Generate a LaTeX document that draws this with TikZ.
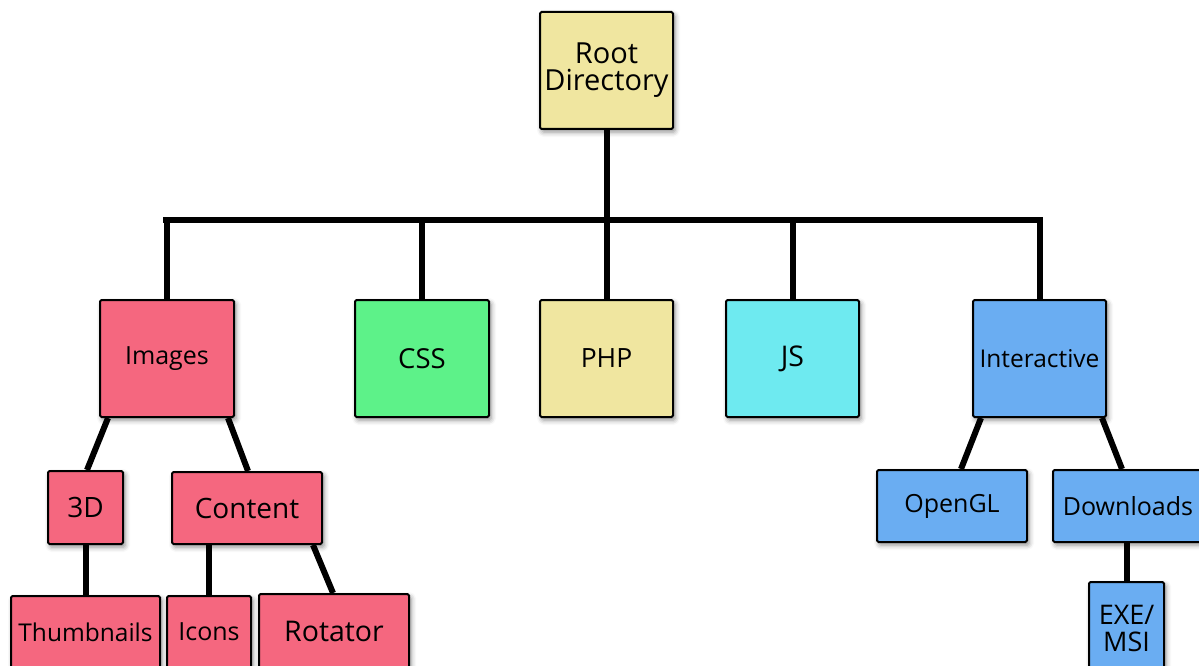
\documentclass[tikz,border=0pt]{standalone}
\usepackage{fontspec}
\setmainfont{Open Sans}
\usetikzlibrary{shadows.blur,backgrounds}
\definecolor{cpink}{RGB}{245,103,127}
\definecolor{cyellow}{RGB}{240,230,160}
\definecolor{cgreen}{RGB}{93,242,137}
\definecolor{ccyan}{RGB}{110,234,240}
\definecolor{cblue}{RGB}{106,173,242}
\tikzset{
  box/.style={draw=black, line width=2pt, rounded corners=1.5pt, inner sep=0pt, align=center,
    blur shadow={shadow xshift=2pt, shadow yshift=-3pt, shadow blur radius=5pt, shadow opacity=45}},
  link/.style={line width=6pt, black},
  fs/.style={font=\fontsize{#1}{27}\selectfont}
}
\begin{document}
\begin{tikzpicture}[x=1pt,y=-1pt]
\useasboundingbox (0,0) rectangle (1199,666);
\clip (0,0) rectangle (1199,666);
% top level
\node[box, fill=cyellow, minimum width=133, minimum height=117, fs=29] (root) at (606.5,70.5) {Root\\Directory};
\node[box, fill=cpink, minimum width=134, minimum height=117, fs=25] (images) at (167,358.5) {Images};
\node[box, fill=cgreen, minimum width=134, minimum height=117, fs=27.5] (css) at (422,358.5) {CSS};
\node[box, fill=cyellow, minimum width=133, minimum height=117, fs=26.5] (php) at (606.5,358.5) {PHP};
\node[box, fill=ccyan, minimum width=133, minimum height=117, fs=28.5] (js) at (792.5,358.5) {JS};
\node[box, fill=cblue, minimum width=133, minimum height=117, fs=24.5] (inter) at (1039.5,358.5) {Interactive};
% second level
\node[box, fill=cpink, minimum width=75, minimum height=73, fs=28] (d3) at (85.5,507.5) {3D};
\node[box, fill=cpink, minimum width=150, minimum height=72, fs=28] (content) at (247,508) {Content};
\node[box, fill=cblue, minimum width=150, minimum height=72, fs=25] (opengl) at (952,506) {OpenGL};
\node[box, fill=cblue, minimum width=150, minimum height=72, fs=25] (down) at (1128,506) {Downloads};
% third level
\node[box, fill=cpink, minimum width=149, minimum height=72, fs=24.5] (thumb) at (85.5,632) {Thumbnails};
\node[box, fill=cpink, minimum width=84, minimum height=72, fs=25] (icons) at (209,632) {Icons};
\node[box, fill=cpink, minimum width=150, minimum height=74, fs=28.5] (rot) at (334,631) {Rotator};
\node[box, fill=cblue, minimum width=75, minimum height=92, fs=27] (exe) at (1126.5,628) {EXE/\\MSI};
% bus
\coordinate (busL) at (166,220);
\coordinate (busR) at (1039.5,220);
\begin{scope}[on background layer]
\draw[link, line cap=rect] (busL) -- (busR);
\draw[link] (root.south) -- (root.south |- busL);
\draw[link] (images.north) -- (images.north |- busL);
\draw[link] (css.north) -- (css.north |- busL);
\draw[link] (php.north) -- (php.north |- busL);
\draw[link] (js.north) -- (js.north |- busL);
\draw[link] (inter.north) -- (inter.north |- busL);
% sub links
\draw[link] ([xshift=-59pt]images.south) -- ([xshift=1.5pt]d3.north);
\draw[link] ([xshift=61pt]images.south) -- ([xshift=1pt]content.north);
\draw[link] (d3.south) -- (d3.south |- thumb.north);
\draw[link] (icons.north |- content.south) -- (icons.north);
\draw[link] ([xshift=66pt]content.south) -- ([xshift=-1pt]rot.north);
\draw[link] ([xshift=-58.5pt]inter.south) -- ([xshift=9pt]opengl.north);
\draw[link] ([xshift=62.5pt]inter.south) -- ([xshift=-6pt]down.north);
\draw[link] (exe.north |- down.south) -- (exe.north);
\end{scope}
\end{tikzpicture}
\end{document}
